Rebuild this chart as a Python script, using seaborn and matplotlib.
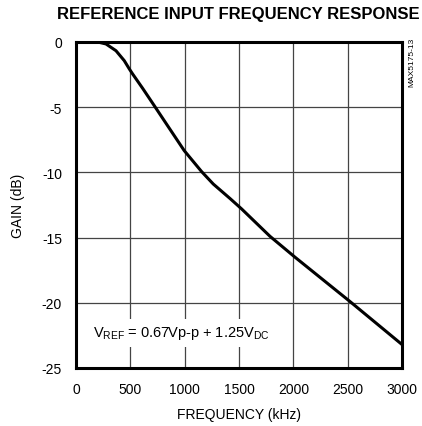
import matplotlib
matplotlib.use("Agg")
import matplotlib.pyplot as plt
import seaborn as sns
import pandas as pd

freq_khz = [138, 200, 276, 368, 444, 491, 521, 613, 720, 843, 996, 1156, 1263, 1417, 1524, 1785, 2015, 2521, 3000]
gain_db = [0, 0, -0.15, -0.67, -1.43, -2.07, -2.45, -3.55, -4.88, -6.42, -8.33, -9.94, -10.89, -12.0, -12.8, -14.9, -16.5, -19.9, -23.2]
x_ticks = [0, 500, 1000, 1500, 2000, 2500, 3000]
y_ticks = [0, -5, -10, -15, -20, -25]

df = pd.DataFrame({"freq": freq_khz, "gain": gain_db})

sns.set_style("white")
fam = ["Liberation Sans Narrow", "Liberation Sans", "DejaVu Sans"]
plt.rcParams["font.family"] = fam
plt.rcParams["text.color"] = "black"
plt.rcParams["axes.labelcolor"] = "black"
plt.rcParams["xtick.color"] = "black"
plt.rcParams["ytick.color"] = "black"

fig = plt.figure(figsize=(4.22, 4.27), dpi=100)
ax = fig.add_axes([76/422, 1 - 369/427, 326/422, 326/427])

sns.lineplot(data=df, x="freq", y="gain", ax=ax, color="black", linewidth=2.2, zorder=3)

ax.set_xlim(0, 3000)
ax.set_ylim(-25, 0)
ax.set_xticks(x_ticks)
ax.set_yticks(y_ticks)
tf = ["Liberation Sans", "DejaVu Sans"]
ax.set_xticklabels([str(v) for v in x_ticks], fontsize=10, family=tf)
ax.set_yticklabels([str(v) for v in y_ticks], fontsize=10, family=tf)
ax.tick_params(axis="both", length=0, pad=10, colors="black")
ax.grid(True, color="#444444", linewidth=0.9)
for s in ax.spines.values():
    s.set_linewidth(2.2)
    s.set_color("black")

ax.set_xlabel("FREQUENCY (kHz)", fontsize=10, labelpad=8, family=tf, color="black")
ax.set_ylabel("GAIN (dB)", fontsize=10, labelpad=12, family=tf, color="black")

fig.text(0.565, 1 - 15/427, "REFERENCE INPUT FREQUENCY RESPONSE", ha="center", va="center",
         fontsize=12, fontweight="bold", family=fam, color="black")

ax.text(160, -22.3, r"V$_{\mathregular{REF}}$ = 0.67Vp-p + 1.25V$_{\mathregular{DC}}$",
        fontsize=10.5, ha="left", va="center", family=tf, color="black",
        bbox=dict(facecolor="white", edgecolor="none", pad=4), zorder=4)

fig.text(412/422, 1 - 62/427, "MAX5175-13", rotation=90, ha="center", va="center", fontsize=6,
         family=tf, color="black")

fig.savefig("out.png", dpi=100)
